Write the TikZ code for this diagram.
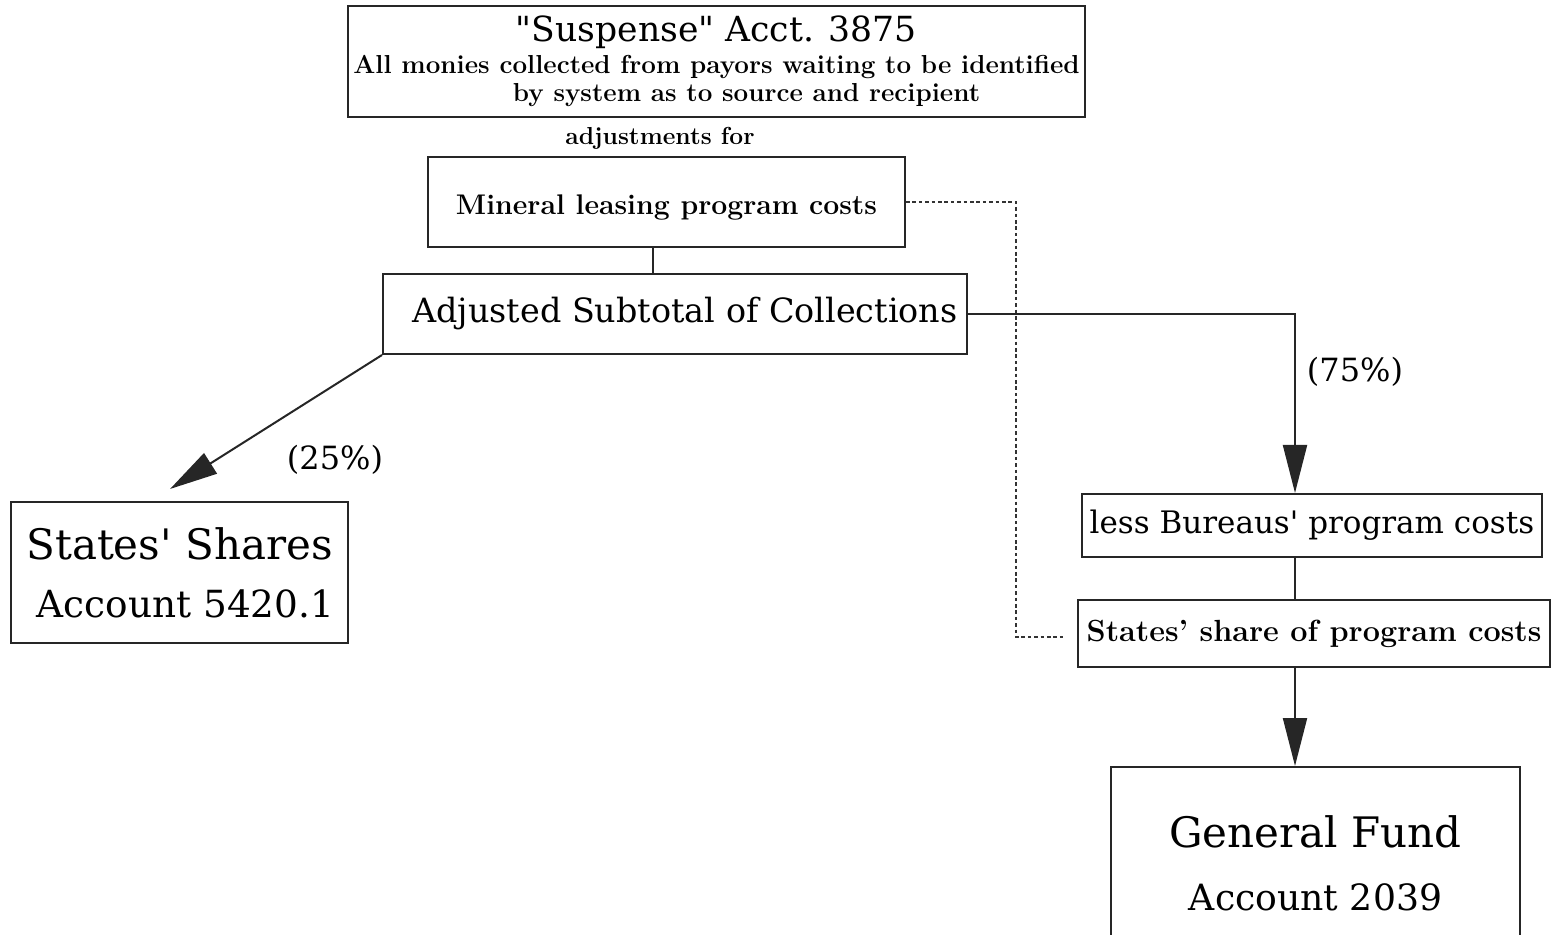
\documentclass[tikz,border=0pt]{standalone}
\usepackage{fontspec}
\usepackage{tikz}
\usetikzlibrary{arrows.meta}
\newfontfamily\slabfont{DejaVu Serif}
\tikzset{
  flowline/.style={line width=1pt, draw=black!85},
  flowarrow/.style={flowline, -{Triangle[length=24pt,width=12pt]}},
  costdots/.style={line width=1pt, draw=black!80,
    dash pattern=on 1.8pt off 1.4pt},
  acctbox/.style={draw=black!85, line width=1pt, align=center,
    inner sep=0pt},
  sharelabel/.style={font=\slabfont\fontsize{16}{18}\selectfont}
}
\newcommand{\fsz}[2]{\fontsize{#1}{#2}\selectfont}

\begin{document}
\begin{tikzpicture}[x=0.5pt,y=-0.5pt]
  \useasboundingbox (0,0) rectangle (1558,935);
  \clip (0,0) rectangle (1558,935);

  \coordinate (stem) at (653,0);
  \coordinate (trunk) at (1295,0);

  \node[acctbox, minimum width=368.5pt, minimum height=55.5pt,
    font=\fsz{13}{14}\bfseries] (suspense) at (716.5,61.5)
    {{\slabfont\mdseries\fsz{17.3}{14}"Suspense" Acct. 3875}\\[2pt]
     All monies collected from payors waiting to be identified\\
     \hspace*{30pt}by system as to source and recipient};
  \node[font=\fsz{12.3}{14}\bfseries] (adjfor) at (660,138) {adjustments for};

  \node[acctbox, minimum width=238.5pt, minimum height=45pt,
    font=\fsz{14.2}{16}\bfseries] (mineral) at (666.5,202)
    {\rule{0pt}{15pt}Mineral leasing program costs};
  \node[acctbox, minimum width=292pt, minimum height=40pt,
    font=\slabfont\fsz{16.7}{18}] (adjusted) at (675,314)
    {\hspace*{10pt}Adjusted Subtotal of Collections};

  \node[acctbox, minimum width=168.5pt, minimum height=70.5pt,
    font=\slabfont\fsz{18.7}{29}] (states) at (179.5,572.5)
    {{\fsz{21}{29}States' Shares}\\ \hspace*{6pt}Account 5420.1};

  \node[acctbox, minimum width=230pt, minimum height=31.5pt,
    font=\slabfont\fsz{15.5}{17}] (bureaus) at (1312,525.5)
    {less Bureaus' program costs};
  \node[acctbox, minimum width=236pt, minimum height=33.5pt,
    font=\fsz{15.3}{17}\bfseries] (stshare) at (1314,633.5)
    {States' share of program costs};
  \node[acctbox, minimum width=204.5pt, minimum height=96.5pt,
    font=\slabfont\fsz{18.1}{31.5}] (genfund) at (1315.5,863.5)
    {{\fsz{21}{31.5}General Fund}\\ Account 2039};

  \node[sharelabel] (pct75) at (1355,372) {(75\%)};
  \node[sharelabel] (pct25) at (335,460) {(25\%)};

  \coordinate (dotend) at (1065,637);

  \draw[flowline] (mineral.south -| stem) -- (adjusted.north -| stem);
  \draw[flowarrow] (adjusted.east) -| (trunk |- bureaus.north);
  \draw[flowarrow] (adjusted.south west)
    -- ([xshift=-4.75pt,yshift=6pt]states.north);
  \draw[flowline] (bureaus.south -| trunk) -- (stshare.north -| trunk);
  \draw[flowarrow] (stshare.south -| trunk) -- (genfund.north -| trunk);
  \draw[costdots] (mineral.east) -- ++(110,0) |- (dotend);
\end{tikzpicture}
\end{document}
